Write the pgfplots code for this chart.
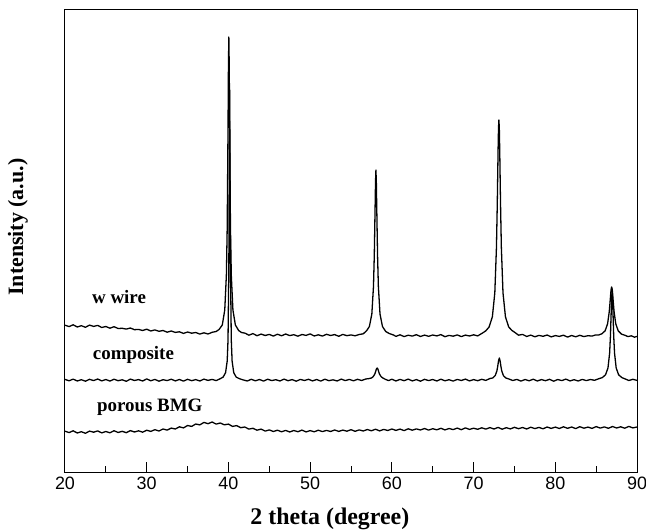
\documentclass[border=0pt]{standalone}
\usepackage{pgfplots}
\pgfplotsset{compat=1.18}
\usepackage{fontspec}
\setmainfont{Liberation Serif}
\setsansfont{Liberation Sans}

\begin{document}
\begin{tikzpicture}
\begin{axis}[
    name=ax,
    scale only axis,
    width=572bp, height=462bp,
    xmin=20, xmax=90, ymin=0, ymax=462,
    axis line style={line width=1bp},
    xtick={20,30,...,90},
    minor xtick={25,35,...,85},
    ytick=\empty,
    xtick pos=bottom,
    tick align=inside,
    major tick length=10bp,
    minor tick length=6bp,
    tick style={black, line width=1bp},
    /pgf/number format/assume math mode=true,
    xticklabel style={font=\fontsize{18}{18}\selectfont\sffamily, yshift=-1bp},
    xlabel={2 theta (degree)},
    ylabel={Intensity (a.u.)},
    xlabel style={font=\fontsize{24}{24}\selectfont\bfseries,
        at={(rel axis cs:0.463,0)}, anchor=center, yshift=-47bp},
    ylabel style={font=\fontsize{22}{22}\selectfont\bfseries,
        at={(rel axis cs:0,0.53)}, anchor=center, yshift=47bp},
]
% w wire
\addplot[black, no marks, line width=1.3pt, line join=round] coordinates {
(20.0,146.8) (20.5,145.4) (21.0,147.2) (21.5,145.0) (22.0,146.3) (22.5,144.7) (23.0,146.9) (23.5,145.6)
(24.0,146.6) (24.5,144.5) (25.0,145.5) (25.5,143.8) (26.0,145.3) (26.5,143.5) (27.0,143.7) (27.5,142.9)
(28.0,144.0) (28.5,142.3) (29.0,142.6) (29.5,141.5) (30.0,142.8) (30.5,141.0) (31.0,142.1) (31.5,140.7)
(32.0,141.5) (32.5,139.8) (33.0,141.0) (33.5,139.6) (34.0,140.2) (34.5,138.6) (35.0,140.0) (35.5,138.8)
(36.0,139.5) (36.5,137.9) (37.0,139.2) (37.5,138.0) (38.05,139.8) (38.5,140.5) (38.85,142.5) (39.25,147)
(39.55,162) (39.75,197) (39.85,244) (39.95,343) (40.0,405) (40.05,435) (40.1,405) (40.15,343)
(40.25,244) (40.35,197) (40.55,162) (40.85,147) (41.25,141.5) (41.6,139.5) (42.05,138.8) (42.5,136.8)
(43.0,138.4) (43.5,136.3) (44.0,137.9) (44.5,136.5) (45.0,137.6) (45.5,135.9) (46.0,137.8) (46.5,136.2)
(47.0,138.0) (47.5,136.4) (48.0,137.3) (48.5,135.8) (49.0,137.5) (49.5,136.6) (50.0,138.1) (50.5,136.0)
(51.0,137.2) (51.5,135.9) (52.0,137.7) (52.5,136.5) (53.0,137.4) (53.5,135.7) (54.0,137.6) (54.5,136.3)
(55.0,137.1) (55.5,136.2) (56.0,137.5) (56.5,138.2) (56.9,141.2) (57.25,145.5) (57.55,158) (57.75,185.5)
(57.85,216.5) (57.95,265) (58.0,290) (58.05,302) (58.1,290) (58.15,265) (58.25,216.5) (58.35,185.5)
(58.55,158) (58.85,145.5) (59.25,140.5) (59.7,138.4) (60.2,137.0) (60.5,135.6) (61.0,137.2) (61.5,135.4)
(62.0,136.8) (62.5,135.9) (63.0,137.3) (63.5,135.5) (64.0,136.9) (64.5,135.7) (65.0,137.0) (65.5,136.1)
(66.0,137.4) (66.5,135.3) (67.0,136.6) (67.5,135.8) (68.0,137.1) (68.5,135.4) (69.0,136.9) (69.5,136.0)
(70.0,137.2) (70.5,136.1) (71.1,139.0) (71.5,141.2) (71.9,145) (72.3,155.2) (72.6,179.2) (72.8,224.6)
(72.9,267.8) (73.0,322.2) (73.05,343.8) (73.1,352) (73.15,343.8) (73.2,322.2) (73.3,267.8) (73.4,224.6)
(73.6,179.2) (73.9,155.2) (74.3,145) (74.7,141.5) (75.1,139.3) (75.5,136.8) (76.0,137.6) (76.5,135.5)
(77.0,136.9) (77.5,135.2) (78.0,136.6) (78.5,135.7) (79.0,137.0) (79.5,135.1) (80.0,136.4) (80.5,135.6)
(81.0,136.8) (81.5,134.9) (82.0,136.5) (82.5,135.2) (83.0,136.7) (83.5,135.4) (84.0,136.3) (84.5,135.9)
(84.9,137.0) (85.3,137.0) (85.7,138.2) (86.1,141.2) (86.4,148.2) (86.6,160) (86.7,169.6) (86.8,180)
(86.85,183.6) (86.9,185) (86.95,183.6) (87.0,180) (87.1,169.6) (87.2,160) (87.4,148.2) (87.7,141.2)
(88.1,137.9) (88.5,136.8) (88.9,135.4) (89.3,136.2) (89.7,134.8) (90.0,135.6)
};
% composite
\addplot[black, no marks, line width=1.3pt, line join=round] coordinates {
(20.0,92.6) (20.5,91.2) (21.0,92.9) (21.5,91.0) (22.0,92.3) (22.5,90.8) (23.0,92.7) (23.5,91.4)
(24.0,93.0) (24.5,91.1) (25.0,92.5) (25.5,90.9) (26.0,92.8) (26.5,91.3) (27.0,92.2) (27.5,90.7)
(28.0,92.9) (28.5,91.5) (29.0,92.4) (29.5,91.0) (30.0,93.1) (30.5,91.2) (31.0,92.6) (31.5,90.8)
(32.0,92.3) (32.5,91.4) (33.0,92.8) (33.5,91.1) (34.0,92.5) (34.5,90.9) (35.0,92.7) (35.5,91.3)
(36.0,92.4) (36.5,91.0) (37.0,92.9) (37.5,91.6) (38.0,92.6) (38.5,91.4) (39.0,93.3) (39.35,94.9)
(39.65,99.3) (39.85,111) (39.95,132) (40.05,205) (40.1,300.5) (40.15,382) (40.2,300.5) (40.25,205)
(40.35,132) (40.45,111) (40.65,99.3) (40.95,94.9) (41.35,93.3) (41.8,92.1) (42.3,91.0) (42.8,92.7)
(43.3,91.2) (43.8,92.5) (44.3,90.9) (44.8,92.8) (45.3,91.4) (45.8,92.3) (46.3,91.0) (46.8,92.9)
(47.3,91.3) (47.8,92.4) (48.3,90.8) (48.8,92.6) (49.3,91.5) (49.8,92.7) (50.3,91.1) (50.8,92.5)
(51.3,90.9) (51.8,92.8) (52.3,91.3) (52.8,92.2) (53.3,91.0) (53.8,92.9) (54.3,91.4) (54.8,92.6)
(55.3,91.2) (55.8,92.7) (56.3,91.5) (56.8,93.0) (57.2,93.4) (57.5,94.0) (57.7,95.2) (57.9,97.7)
(58.0,100.0) (58.1,102.8) (58.2,104) (58.3,102.8) (58.4,100.0) (58.5,97.7) (58.7,95.2) (58.9,94.0)
(59.2,92.7) (59.6,91.4) (60.0,92.8) (60.5,91.0) (61.0,92.6) (61.5,91.3) (62.0,92.9) (62.5,91.1)
(63.0,92.4) (63.5,90.8) (64.0,92.7) (64.5,91.4) (65.0,92.5) (65.5,91.0) (66.0,92.8) (66.5,91.2)
(67.0,92.3) (67.5,90.9) (68.0,92.6) (68.5,91.5) (69.0,92.9) (69.5,91.1) (70.0,92.4) (70.5,91.3)
(71.0,92.7) (71.5,91.6) (72.0,93.5) (72.35,94.0) (72.65,96.4) (72.85,101) (72.95,105.4) (73.05,111)
(73.15,114) (73.25,111) (73.35,105.4) (73.45,101) (73.65,96.4) (73.95,94) (74.35,92.9) (74.8,91.5)
(75.3,92.6) (75.8,90.9) (76.3,92.5) (76.8,91.2) (77.3,92.8) (77.8,91.0) (78.3,92.4) (78.8,91.3)
(79.3,92.7) (79.8,90.8) (80.3,92.5) (80.8,91.4) (81.3,92.9) (81.8,91.1) (82.3,92.3) (82.8,91.0)
(83.3,92.6) (83.8,91.4) (84.3,92.5) (84.8,91.7) (85.3,93.2) (85.75,94.4) (86.15,97.2) (86.45,104.1)
(86.65,119) (86.75,136) (86.85,162.4) (86.9,174.8) (86.95,180) (87.0,174.8) (87.05,162.4) (87.15,136)
(87.25,119) (87.45,104.1) (87.75,97.2) (88.15,94.4) (88.6,92.9) (89.0,91.5) (89.5,92.7) (90.0,91.6)
};
% porous BMG
\addplot[black, no marks, line width=1.3pt, line join=round] coordinates {
(20.0,40.8) (20.5,39.4) (21.0,41.2) (21.5,39.0) (22.0,40.3) (22.5,38.7) (23.0,40.9) (23.5,39.8)
(24.0,41.1) (24.5,39.1) (25.0,40.5) (25.5,39.2) (26.0,41.3) (26.5,39.5) (27.0,40.7) (27.5,39.3)
(28.0,41.4) (28.5,40.0) (29.0,41.2) (29.5,39.8) (30.0,41.8) (30.5,40.6) (31.0,42.3) (31.5,41.0)
(32.0,43.0) (32.5,41.9) (33.0,43.9) (33.5,43.0) (34.0,45.2) (34.5,44.1) (35.0,46.5) (35.5,45.6)
(36.0,48.0) (36.5,47.1) (37.0,49.6) (37.5,48.3) (38.0,50.0) (38.5,47.9) (39.0,49.0) (39.5,47.2)
(40.0,47.9) (40.5,45.6) (41.0,46.4) (41.5,44.3) (42.0,45.0) (42.5,42.9) (43.0,43.7) (43.5,41.8)
(44.0,42.9) (44.5,40.9) (45.0,42.1) (45.5,40.5) (46.0,41.8) (46.5,40.2) (47.0,41.6) (47.5,40.0)
(48.0,41.5) (48.5,40.3) (49.0,41.9) (49.5,40.1) (50.0,41.4) (50.5,40.2) (51.0,41.8) (51.5,40.4)
(52.0,41.6) (52.5,40.5) (53.0,42.0) (53.5,40.6) (54.0,41.9) (54.5,40.8) (55.0,42.3) (55.5,40.7)
(56.0,42.1) (56.5,41.0) (57.0,42.5) (57.5,41.2) (58.0,42.8) (58.5,41.1) (59.0,42.6) (59.5,41.5)
(60.0,43.0) (60.5,41.6) (61.0,42.9) (61.5,41.4) (62.0,43.2) (62.5,41.8) (63.0,43.1) (63.5,42.0)
(64.0,43.5) (64.5,41.9) (65.0,43.3) (65.5,42.2) (66.0,43.7) (66.5,42.1) (67.0,43.5) (67.5,42.4)
(68.0,43.9) (68.5,42.3) (69.0,44.1) (69.5,42.6) (70.0,43.8) (70.5,42.7) (71.0,44.2) (71.5,42.9)
(72.0,44.4) (72.5,43.0) (73.0,44.6) (73.5,42.8) (74.0,44.3) (74.5,43.1) (75.0,44.7) (75.5,43.3)
(76.0,44.5) (76.5,43.0) (77.0,44.8) (77.5,43.4) (78.0,44.6) (78.5,43.2) (79.0,45.0) (79.5,43.6)
(80.0,44.9) (80.5,43.5) (81.0,45.2) (81.5,43.7) (82.0,45.0) (82.5,43.4) (83.0,45.3) (83.5,43.8)
(84.0,44.9) (84.5,43.6) (85.0,45.4) (85.5,43.9) (86.0,45.1) (86.5,43.7) (87.0,45.5) (87.5,44.0)
(88.0,45.2) (88.5,43.8) (89.0,45.6) (89.5,44.1) (90.0,45.0)
};
\node[anchor=west, inner sep=0pt, font=\fontsize{19}{19}\selectfont\bfseries] at (axis cs:23.3,175) {w wire};
\node[anchor=west, inner sep=0pt, font=\fontsize{19}{19}\selectfont\bfseries] at (axis cs:23.4,117) {composite};
\node[anchor=west, inner sep=0pt, font=\fontsize{19}{19}\selectfont\bfseries] at (axis cs:23.9,65) {porous BMG};
\end{axis}
\pgfresetboundingbox
\path[use as bounding box] ([shift={(-65bp,-60bp)}]ax.south west) rectangle ([shift={(9bp,10bp)}]ax.north east);
\end{tikzpicture}
\end{document}
